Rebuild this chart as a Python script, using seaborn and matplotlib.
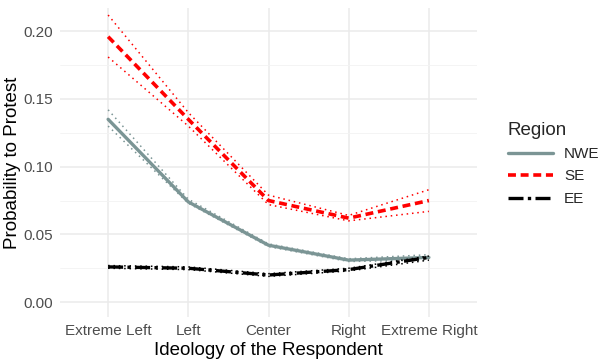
import numpy as np
import pandas as pd
import matplotlib.pyplot as plt
import seaborn as sns
from matplotlib.lines import Line2D

ideology = ["Extreme Left", "Left", "Center", "Right", "Extreme Right"]
regions = ["NWE", "SE", "EE"]

nwe = [0.135, 0.074, 0.042, 0.031, 0.033]
nwe_lo = [0.130, 0.073, 0.041, 0.030, 0.031]
nwe_hi = [0.142, 0.076, 0.043, 0.032, 0.035]

se = [0.196, 0.135, 0.075, 0.062, 0.075]
se_lo = [0.181, 0.130, 0.072, 0.060, 0.067]
se_hi = [0.212, 0.140, 0.079, 0.064, 0.083]

ee = [0.026, 0.025, 0.020, 0.024, 0.033]
ee_lo = [0.025, 0.024, 0.019, 0.023, 0.031]
ee_hi = [0.027, 0.026, 0.021, 0.025, 0.034]

colors = {"NWE": "#7b9595", "SE": "#ff0000", "EE": "#000000"}
dashes = {"NWE": "", "SE": (2.2, 1.3), "EE": (4.5, 1.3, 1, 1.3)}
widths = {"NWE": 2.4, "SE": 2.6, "EE": 2.4}

df = pd.DataFrame({
    "Ideology": ideology * 3,
    "Region": np.repeat(regions, 5),
    "p": nwe + se + ee,
    "lo": nwe_lo + se_lo + ee_lo,
    "hi": nwe_hi + se_hi + ee_hi,
})
df["x"] = df["Ideology"].map({k: i for i, k in enumerate(ideology)})

sns.set_theme(style="whitegrid")
plt.rcParams["font.family"] = ["Liberation Sans", "DejaVu Sans"]

fig = plt.figure(figsize=(6, 3.59), dpi=100)
ax = fig.add_axes([0.1, 0.117, 0.695, 0.86])

for r in regions:
    d = df[df["Region"] == r]
    for col in ["lo", "hi"]:
        sns.lineplot(data=d, x="x", y=col, ax=ax, color=colors[r],
                     linestyle=(0, (1, 2.5)), linewidth=1.1, legend=False)
    sns.lineplot(data=d, x="x", y="p", ax=ax, color=colors[r],
                 dashes=False, linewidth=widths[r], legend=False)
    line = ax.get_lines()[-1]
    if dashes[r]:
        line.set_dashes(dashes[r])

ax.set_xlim(-0.6, 4.6)
ax.set_ylim(-0.011, 0.217)
ax.set_xticks(range(5))
ax.set_xticklabels(ideology)
ax.set_yticks([0, 0.05, 0.1, 0.15, 0.2])
ax.set_yticklabels(["0.00", "0.05", "0.10", "0.15", "0.20"])
ax.set_yticks([0.025, 0.075, 0.125, 0.175], minor=True)
ax.set_facecolor("white")
ax.grid(True, which="major", color="#ebebeb", linewidth=1.1)
ax.grid(True, which="minor", axis="y", color="#f3f3f3", linewidth=0.6)
ax.grid(False, which="minor", axis="x")
for s in ax.spines.values():
    s.set_visible(False)
ax.tick_params(axis="both", which="both", length=0, labelsize=11,
               labelcolor="#4d4d4d", pad=5)
ax.set_xlabel("Ideology of the Respondent", fontsize=13.5, color="black", labelpad=3)
ax.set_ylabel("Probability to Protest", fontsize=13.5, color="black", labelpad=2)

handles = []
for r in regions:
    h = Line2D([0], [0], color=colors[r], linewidth=widths[r])
    if dashes[r]:
        h.set_dashes(dashes[r])
    handles.append(h)
leg = fig.legend(handles, regions, title="Region", loc="upper left",
                 bbox_to_anchor=(500 / 600, 1 - 114 / 359), frameon=False,
                 fontsize=11, title_fontsize=13.5, handlelength=3.0,
                 handletextpad=0.7, labelspacing=0.55, borderpad=0,
                 alignment="left")

fig.savefig("out.png", dpi=100)
